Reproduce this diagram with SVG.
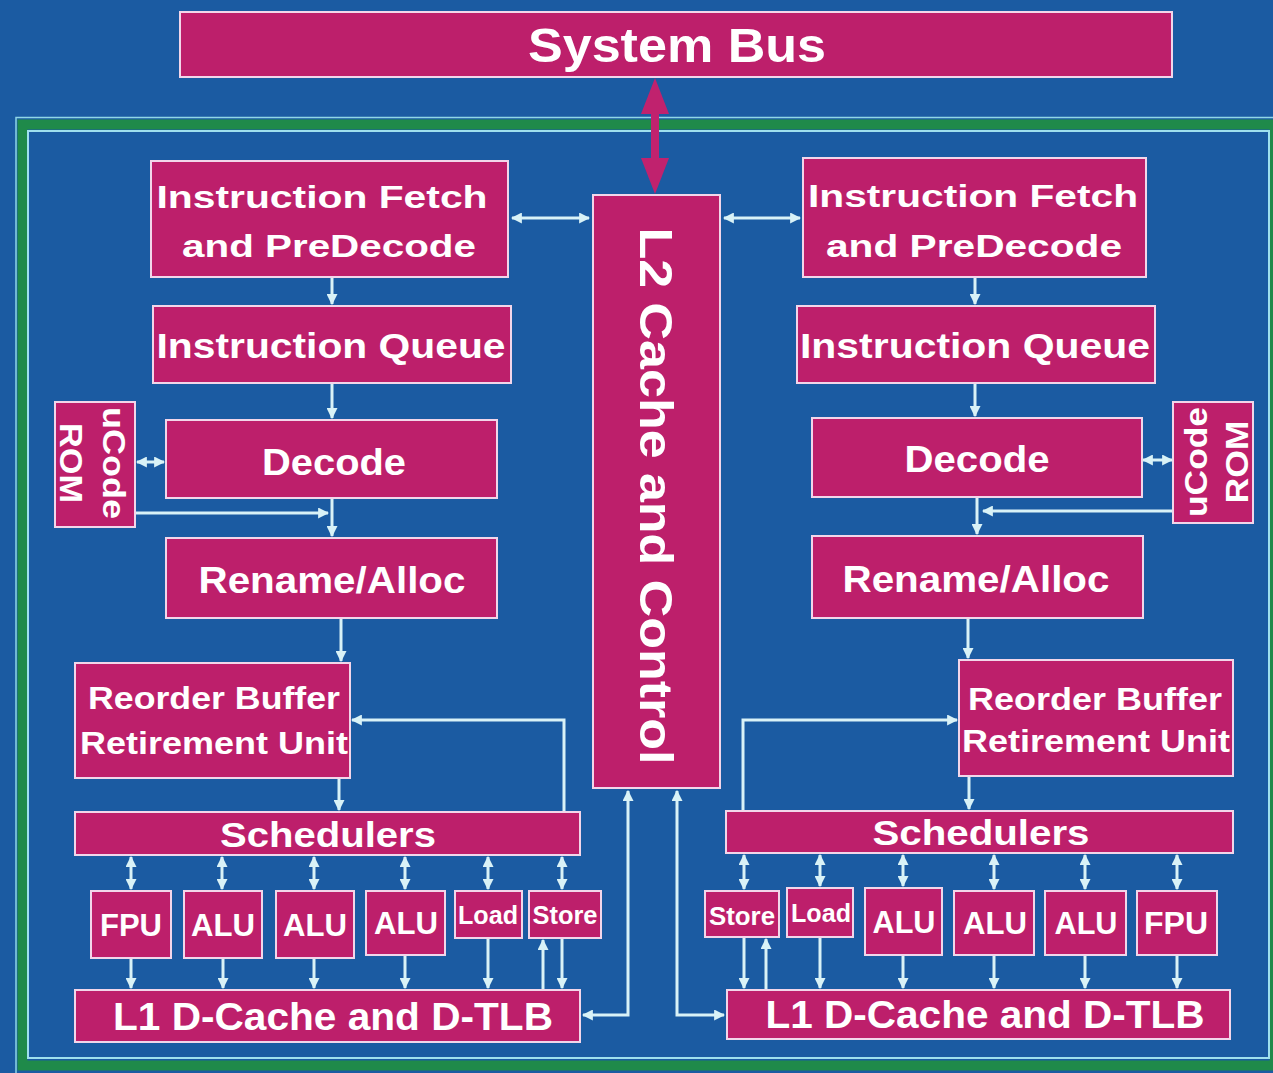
<svg xmlns="http://www.w3.org/2000/svg" width="1273" height="1073" viewBox="0 0 1273 1073">
<style>
.box{fill:#bd1f6b;stroke:#f2d6ea;stroke-width:2}
.t{fill:#ffffff;font-family:"Liberation Sans",Arial,sans-serif;font-weight:bold;text-anchor:middle}
.c{fill:none;stroke:#d9f2f7;stroke-width:3}
</style>
<defs>
<marker id="ah" viewBox="0 0 10 10" refX="9" refY="5" markerWidth="11" markerHeight="11" markerUnits="userSpaceOnUse" orient="auto-start-reverse">
<path d="M0,0 L10,5 L0,10 z" fill="#d9f2f7"/>
</marker>
</defs>
<rect x="0" y="0" width="1273" height="1073" fill="#1b5ba2"/>
<g id="frame">
<rect x="22.5" y="124.5" width="1252" height="941" fill="none" stroke="#1f8a4a" stroke-width="10"/>
<rect x="16" y="117.5" width="1270" height="960" fill="none" stroke="#8fd6e6" stroke-width="1.5"/>
<rect x="28" y="131" width="1241" height="927" fill="none" stroke="#9fe0ee" stroke-width="2"/>
</g>
<g id="system-bus">
<rect class="box" x="180" y="12" width="992" height="65" stroke="none"/>
<text class="t" x="677" y="62" font-size="48" textLength="298" lengthAdjust="spacingAndGlyphs">System Bus</text>
</g>
<g id="l2-cache">
<rect class="box" x="593" y="195" width="127" height="593"/>
<text class="t" transform="translate(657,496) rotate(90)" x="0" y="17" font-size="47" textLength="537" lengthAdjust="spacingAndGlyphs">L2 Cache and Control</text>
</g>
<g id="left-fetch">
<rect class="box" x="151" y="161" width="357" height="116"/>
<text class="t" x="322" y="208" font-size="32" textLength="331" lengthAdjust="spacingAndGlyphs">Instruction Fetch</text>
<text class="t" x="329" y="257" font-size="32" textLength="294" lengthAdjust="spacingAndGlyphs">and PreDecode</text>
</g>
<g id="right-fetch">
<rect class="box" x="803" y="158" width="343" height="119"/>
<text class="t" x="973" y="207" font-size="32" textLength="330" lengthAdjust="spacingAndGlyphs">Instruction Fetch</text>
<text class="t" x="974" y="257" font-size="32" textLength="296" lengthAdjust="spacingAndGlyphs">and PreDecode</text>
</g>
<g id="left-queue">
<rect class="box" x="153" y="306" width="358" height="77"/>
<text class="t" x="331" y="358" font-size="35" textLength="349" lengthAdjust="spacingAndGlyphs">Instruction Queue</text>
</g>
<g id="right-queue">
<rect class="box" x="797" y="306" width="358" height="77"/>
<text class="t" x="975" y="358" font-size="35" textLength="350" lengthAdjust="spacingAndGlyphs">Instruction Queue</text>
</g>
<g id="left-ucode">
<rect class="box" x="55" y="402" width="80" height="125"/>
<text class="t" transform="translate(95,463) rotate(90)" x="0" y="-8" font-size="32" textLength="112" lengthAdjust="spacingAndGlyphs">uCode</text>
<text class="t" transform="translate(95,463) rotate(90)" x="0" y="35" font-size="32" textLength="80" lengthAdjust="spacingAndGlyphs">ROM</text>
</g>
<g id="right-ucode">
<rect class="box" x="1173" y="402" width="80" height="121"/>
<text class="t" transform="translate(1213,462) rotate(-90)" x="0" y="-6" font-size="32" textLength="110" lengthAdjust="spacingAndGlyphs">uCode</text>
<text class="t" transform="translate(1213,462) rotate(-90)" x="0" y="35" font-size="32" textLength="83" lengthAdjust="spacingAndGlyphs">ROM</text>
</g>
<g id="left-decode">
<rect class="box" x="166" y="420" width="331" height="78"/>
<text class="t" x="334" y="475" font-size="37" textLength="144" lengthAdjust="spacingAndGlyphs">Decode</text>
</g>
<g id="right-decode">
<rect class="box" x="812" y="418" width="330" height="79"/>
<text class="t" x="977" y="472" font-size="37" textLength="145" lengthAdjust="spacingAndGlyphs">Decode</text>
</g>
<g id="left-rename">
<rect class="box" x="166" y="538" width="331" height="80"/>
<text class="t" x="332" y="593" font-size="37" textLength="267" lengthAdjust="spacingAndGlyphs">Rename/Alloc</text>
</g>
<g id="right-rename">
<rect class="box" x="812" y="536" width="331" height="82"/>
<text class="t" x="976" y="592" font-size="37" textLength="267" lengthAdjust="spacingAndGlyphs">Rename/Alloc</text>
</g>
<g id="left-rob">
<rect class="box" x="75" y="663" width="275" height="115"/>
<text class="t" x="214" y="709" font-size="32" textLength="252" lengthAdjust="spacingAndGlyphs">Reorder Buffer</text>
<text class="t" x="214" y="754" font-size="32" textLength="268" lengthAdjust="spacingAndGlyphs">Retirement Unit</text>
</g>
<g id="right-rob">
<rect class="box" x="959" y="660" width="274" height="116"/>
<text class="t" x="1095" y="710" font-size="32" textLength="254" lengthAdjust="spacingAndGlyphs">Reorder Buffer</text>
<text class="t" x="1096" y="752" font-size="32" textLength="268" lengthAdjust="spacingAndGlyphs">Retirement Unit</text>
</g>
<g id="left-schedulers">
<rect class="box" x="75" y="812" width="505" height="43"/>
<text class="t" x="328" y="847" font-size="35" textLength="216" lengthAdjust="spacingAndGlyphs">Schedulers</text>
</g>
<g id="right-schedulers">
<rect class="box" x="726" y="811" width="507" height="42"/>
<text class="t" x="981" y="845" font-size="35" textLength="217" lengthAdjust="spacingAndGlyphs">Schedulers</text>
</g>
<g id="left-fpu"><rect class="box" x="91" y="891" width="80" height="67"/><text class="t" x="131" y="936" font-size="31" textLength="62" lengthAdjust="spacingAndGlyphs">FPU</text></g>
<g id="left-alu1"><rect class="box" x="184" y="891" width="78" height="67"/><text class="t" x="223" y="936" font-size="31" textLength="64" lengthAdjust="spacingAndGlyphs">ALU</text></g>
<g id="left-alu2"><rect class="box" x="276" y="891" width="78" height="67"/><text class="t" x="315" y="936" font-size="31" textLength="64" lengthAdjust="spacingAndGlyphs">ALU</text></g>
<g id="left-alu3"><rect class="box" x="366" y="891" width="79" height="64"/><text class="t" x="406" y="934" font-size="31" textLength="64" lengthAdjust="spacingAndGlyphs">ALU</text></g>
<g id="left-load"><rect class="box" x="455" y="891" width="67" height="47"/><text class="t" x="488" y="924" font-size="26" textLength="60" lengthAdjust="spacingAndGlyphs">Load</text></g>
<g id="left-store"><rect class="box" x="529" y="891" width="72" height="47"/><text class="t" x="565" y="924" font-size="26" textLength="65" lengthAdjust="spacingAndGlyphs">Store</text></g>
<g id="right-store"><rect class="box" x="705" y="891" width="74" height="46"/><text class="t" x="742" y="925" font-size="26" textLength="66" lengthAdjust="spacingAndGlyphs">Store</text></g>
<g id="right-load"><rect class="box" x="787" y="888" width="66" height="49"/><text class="t" x="821" y="922" font-size="26" textLength="60" lengthAdjust="spacingAndGlyphs">Load</text></g>
<g id="right-alu1"><rect class="box" x="865" y="888" width="77" height="67"/><text class="t" x="904" y="933" font-size="31" textLength="63" lengthAdjust="spacingAndGlyphs">ALU</text></g>
<g id="right-alu2"><rect class="box" x="954" y="891" width="80" height="64"/><text class="t" x="995" y="934" font-size="31" textLength="64" lengthAdjust="spacingAndGlyphs">ALU</text></g>
<g id="right-alu3"><rect class="box" x="1045" y="891" width="81" height="64"/><text class="t" x="1086" y="934" font-size="31" textLength="63" lengthAdjust="spacingAndGlyphs">ALU</text></g>
<g id="right-fpu"><rect class="box" x="1137" y="891" width="80" height="64"/><text class="t" x="1176" y="934" font-size="31" textLength="64" lengthAdjust="spacingAndGlyphs">FPU</text></g>
<g id="left-l1">
<rect class="box" x="75" y="990" width="505" height="52"/>
<text class="t" x="333" y="1030" font-size="38" textLength="440" lengthAdjust="spacingAndGlyphs">L1 D-Cache and D-TLB</text>
</g>
<g id="right-l1">
<rect class="box" x="727" y="990" width="503" height="49"/>
<text class="t" x="985" y="1028" font-size="38" textLength="439" lengthAdjust="spacingAndGlyphs">L1 D-Cache and D-TLB</text>
</g>
<g id="connectors">
<g id="bus-link" fill="#c0226e">
<rect x="651" y="100" width="8" height="70"/>
<polygon points="655,78 669,114 641,114"/>
<polygon points="641,158 669,158 655,194"/>
</g>
<line class="c" x1="512" y1="218" x2="589" y2="218" marker-start="url(#ah)" marker-end="url(#ah)"/>
<line class="c" x1="724" y1="218" x2="800" y2="218" marker-start="url(#ah)" marker-end="url(#ah)"/>
<line class="c" x1="332" y1="278" x2="332" y2="304" marker-end="url(#ah)"/>
<line class="c" x1="975" y1="278" x2="975" y2="304" marker-end="url(#ah)"/>
<line class="c" x1="332" y1="384" x2="332" y2="418" marker-end="url(#ah)"/>
<line class="c" x1="975" y1="384" x2="975" y2="416" marker-end="url(#ah)"/>
<line class="c" x1="137" y1="462" x2="164" y2="462" marker-start="url(#ah)" marker-end="url(#ah)"/>
<line class="c" x1="1143" y1="460" x2="1172" y2="460" marker-start="url(#ah)" marker-end="url(#ah)"/>
<line class="c" x1="136" y1="513" x2="328" y2="513" marker-end="url(#ah)"/>
<line class="c" x1="1172" y1="511" x2="983" y2="511" marker-end="url(#ah)"/>
<line class="c" x1="332" y1="499" x2="332" y2="536" marker-end="url(#ah)"/>
<line class="c" x1="977" y1="498" x2="977" y2="534" marker-end="url(#ah)"/>
<line class="c" x1="341" y1="619" x2="341" y2="661" marker-end="url(#ah)"/>
<line class="c" x1="968" y1="619" x2="968" y2="658" marker-end="url(#ah)"/>
<line class="c" x1="339" y1="779" x2="339" y2="810" marker-end="url(#ah)"/>
<line class="c" x1="969" y1="777" x2="969" y2="809" marker-end="url(#ah)"/>
<path class="c" d="M564,811 V720 H352" marker-end="url(#ah)"/>
<path class="c" d="M743,810 V720 H957" marker-end="url(#ah)"/>
<line class="c" x1="131" y1="857" x2="131" y2="889" marker-start="url(#ah)" marker-end="url(#ah)"/>
<line class="c" x1="222" y1="857" x2="222" y2="889" marker-start="url(#ah)" marker-end="url(#ah)"/>
<line class="c" x1="314" y1="857" x2="314" y2="889" marker-start="url(#ah)" marker-end="url(#ah)"/>
<line class="c" x1="405" y1="857" x2="405" y2="889" marker-start="url(#ah)" marker-end="url(#ah)"/>
<line class="c" x1="488" y1="857" x2="488" y2="889" marker-start="url(#ah)" marker-end="url(#ah)"/>
<line class="c" x1="562" y1="857" x2="562" y2="889" marker-start="url(#ah)" marker-end="url(#ah)"/>
<line class="c" x1="744" y1="855" x2="744" y2="889" marker-start="url(#ah)" marker-end="url(#ah)"/>
<line class="c" x1="820" y1="855" x2="820" y2="886" marker-start="url(#ah)" marker-end="url(#ah)"/>
<line class="c" x1="903" y1="855" x2="903" y2="886" marker-start="url(#ah)" marker-end="url(#ah)"/>
<line class="c" x1="994" y1="855" x2="994" y2="889" marker-start="url(#ah)" marker-end="url(#ah)"/>
<line class="c" x1="1085" y1="855" x2="1085" y2="889" marker-start="url(#ah)" marker-end="url(#ah)"/>
<line class="c" x1="1177" y1="855" x2="1177" y2="889" marker-start="url(#ah)" marker-end="url(#ah)"/>
<line class="c" x1="131" y1="959" x2="131" y2="988" marker-end="url(#ah)"/>
<line class="c" x1="223" y1="959" x2="223" y2="988" marker-end="url(#ah)"/>
<line class="c" x1="314" y1="959" x2="314" y2="988" marker-end="url(#ah)"/>
<line class="c" x1="405" y1="956" x2="405" y2="988" marker-end="url(#ah)"/>
<line class="c" x1="488" y1="939" x2="488" y2="988" marker-end="url(#ah)"/>
<line class="c" x1="562" y1="939" x2="562" y2="988" marker-end="url(#ah)"/>
<line class="c" x1="543" y1="989" x2="543" y2="940" marker-end="url(#ah)"/>
<line class="c" x1="744" y1="938" x2="744" y2="988" marker-end="url(#ah)"/>
<line class="c" x1="766" y1="989" x2="766" y2="939" marker-end="url(#ah)"/>
<line class="c" x1="820" y1="938" x2="820" y2="988" marker-end="url(#ah)"/>
<line class="c" x1="903" y1="956" x2="903" y2="988" marker-end="url(#ah)"/>
<line class="c" x1="994" y1="956" x2="994" y2="988" marker-end="url(#ah)"/>
<line class="c" x1="1085" y1="956" x2="1085" y2="988" marker-end="url(#ah)"/>
<line class="c" x1="1177" y1="956" x2="1177" y2="988" marker-end="url(#ah)"/>
<path class="c" d="M628,791 V1015 H583" marker-start="url(#ah)" marker-end="url(#ah)"/>
<path class="c" d="M677,791 V1015 H724" marker-start="url(#ah)" marker-end="url(#ah)"/>
</g>
</svg>
